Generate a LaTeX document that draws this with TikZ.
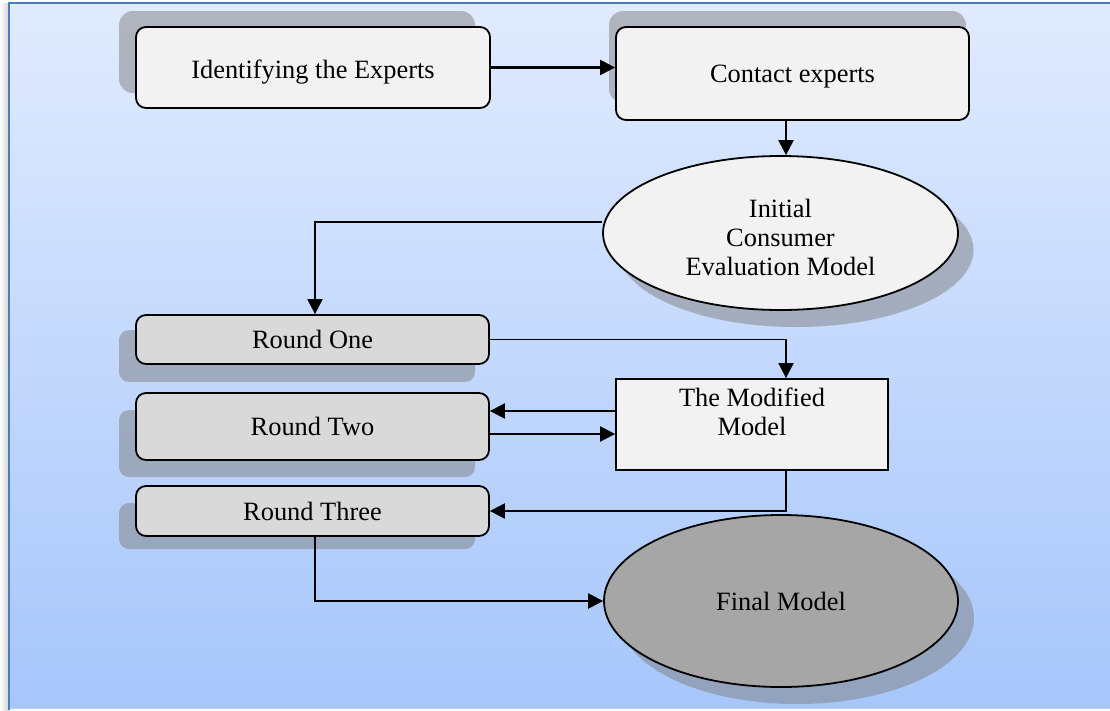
\documentclass[tikz,border=0pt]{standalone}
\usepackage{fontspec}
\setmainfont{Liberation Serif}
\usetikzlibrary{arrows.meta,shapes.geometric,calc}

\definecolor{bgtop}{HTML}{E1EBFE}
\definecolor{bgbot}{HTML}{A6C6FB}
\definecolor{frameblue}{HTML}{4A7EBB}
\definecolor{lightfill}{HTML}{F2F2F2}
\definecolor{midfill}{HTML}{D9D9D9}
\definecolor{darkfill}{HTML}{A6A6A6}

\tikzset{
  txt/.style={font=\fontsize{26.4}{29}\selectfont, align=center, text=black},
  softshadow/.style={fill=gray, fill opacity=0.5, draw=none},
  stepbox/.style={txt, draw=black, line width=1.8pt, rounded corners=10pt,
                  inner sep=0pt},
  topbox/.style={stepbox, fill=lightfill, minimum width=354pt},
  roundbox/.style={stepbox, fill=midfill, minimum width=353pt},
  oval/.style={txt, ellipse, draw=black, line width=1.8pt, inner sep=0pt},
  link/.style={line width=2.3pt, draw=black,
               -{Triangle[length=15pt,width=15pt]}}
}

\begin{document}
\begin{tikzpicture}[x=1pt,y=-1pt]
\useasboundingbox (0,0) rectangle (1110,710);

% page edge and gradient background
\fill[white] (0,0) rectangle (1110,710);
\shade[left color=white, right color=gray!35] (0,3) rectangle (9,710);
\shade[top color=bgtop, bottom color=bgbot] (9,3) rectangle (1110,708);
\draw[bgbot!80!white, line width=1.5pt] (9,708.5) -- (1110,708.5);
\draw[frameblue, line width=2pt] (9,710) -- (9,3) -- (1110,3);

% drop shadows
\fill[softshadow, rounded corners=14pt] (119,11) rectangle (475,93);
\fill[softshadow, rounded corners=14pt] (609,11) rectangle (966,103);
\fill[softshadow] (796,250) ellipse [x radius=177.5, y radius=77];
\fill[softshadow, rounded corners=10pt] (119,330) rectangle (475,382);
\fill[softshadow, rounded corners=10pt] (119,410) rectangle (475,477);
\fill[softshadow, rounded corners=10pt] (119,503) rectangle (475,549);
\fill[softshadow] (797,618) ellipse [x radius=177, y radius=86];

% process steps
\node[topbox, minimum height=81pt] (ident) at (313,67.5)
  {\raisebox{-5pt}[\height][\depth]{Identifying the Experts}};
\node[topbox, minimum width=353pt, minimum height=93pt] (contact) at (792.5,73.5)
  {\raisebox{-3pt}[\height][\depth]{Contact experts}};
\node[oval, fill=lightfill, minimum width=355pt, minimum height=154pt] (init) at (780.5,233) {};
\node[txt, inner sep=0pt] (inittxt) at (780.5,237) {Initial\\Consumer\\Evaluation Model};
\node[roundbox, minimum height=49pt] (r1) at (312.5,339.5) {Round One};
\node[roundbox, minimum height=67pt] (r2) at (312.5,426.5) {Round Two};
\node[roundbox, minimum height=50pt] (r3) at (312.5,511) {Round Three};
\node[draw=black, line width=1.8pt, fill=lightfill, minimum width=272pt,
      minimum height=91pt, inner sep=0pt] (mod) at (752,424.5) {};
\node[txt, anchor=north, inner sep=0pt] (modtxt) at (752,388) {The Modified\\Model};
\node[oval, fill=darkfill, minimum width=354pt, minimum height=172pt] (final) at (781,601) {Final Model};

% connector columns
\coordinate (colR) at (786,0);
\coordinate (colL) at (315,0);

% connectors
\draw[link] (ident.east) -- (contact.west |- ident.east);
\draw[link] (contact.south -| colR) -- (colR |- init.north);
\draw[link] ([yshift=11pt]init.west) -| (colL |- r1.north);
\draw[link, line width=1.8pt] (r1.east) -| (colR |- mod.north);
\draw[link] ([yshift=13.5pt]mod.west) -- ([yshift=15.5pt]r2.east);
\draw[link] ([yshift=-7.5pt]r2.east) -- ([yshift=-9.5pt]mod.west);
\draw[link] (mod.south -| colR) |- (r3.east);
\draw[link] (r3.south -| colL) |- (final.west);
\end{tikzpicture}
\end{document}
